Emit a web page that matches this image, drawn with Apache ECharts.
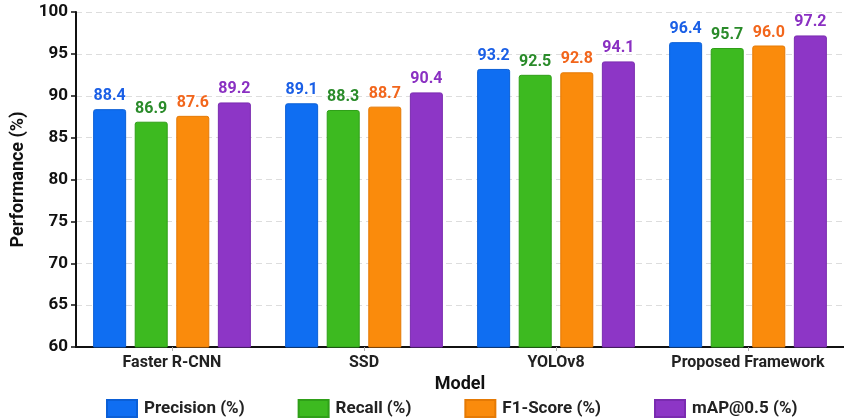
<!DOCTYPE html>
<html>
<head>
<meta charset="utf-8">
<script src="https://cdn.jsdelivr.net/npm/echarts@6/dist/echarts.min.js"></script>
<style>
  html, body { margin: 0; padding: 0; background: #ffffff; }
  #chart { width: 844px; height: 419px; }
</style>
</head>
<body>
<div id="chart"></div>
<script>
// Model comparison: detection metrics per model
const models = ['Faster R-CNN', 'SSD', 'YOLOv8', 'Proposed Framework'];
const precision = [88.4, 89.1, 93.2, 96.4];
const recall = [86.9, 88.3, 92.5, 95.7];
const f1Score = [87.6, 88.7, 92.8, 96.0];
const mAP50 = [89.2, 90.4, 94.1, 97.2];
const seriesNames = ['Precision (%)', 'Recall (%)', 'F1-Score (%)', 'mAP@0.5 (%)'];
const yTicks = [60, 65, 70, 75, 80, 85, 90, 95, 100];

const barColors = ['#0f6ef2', '#3dba20', '#fa8b0c', '#8d36c6'];
const borderColors = ['#0b5fd6', '#2f9f18', '#e57a05', '#7a2bb0'];
const labelColors = ['#1a5fe6', '#2a8b2a', '#f2661c', '#8a30c2'];
const FONT = 'Roboto';

const chart = echarts.init(document.getElementById('chart'), null, { renderer: 'canvas' });

const values = [precision, recall, f1Score, mAP50];
const series = values.map((data, i) => ({
  name: seriesNames[i],
  type: 'bar',
  data: data,
  barWidth: 33,
  barGap: '26%',
  itemStyle: {
    color: barColors[i],
    borderColor: borderColors[i],
    borderWidth: 1,
    borderRadius: [2, 2, 0, 0]
  },
  label: {
    show: true,
    position: 'top',
    distance: 5,
    formatter: p => p.value.toFixed(1),
    color: labelColors[i],
    fontFamily: FONT,
    fontWeight: 'bold',
    fontSize: 16
  }
}));

chart.setOption({
  animation: false,
  backgroundColor: '#ffffff',
  textStyle: { fontFamily: FONT },
  grid: { left: 76, right: -10, top: 12, bottom: 72, containLabel: false },
  legend: {
    top: 394,
    left: 101,
    itemWidth: 30,
    itemHeight: 17,
    itemGap: 53,
    icon: 'rect',
    textStyle: { fontFamily: FONT, fontWeight: 'bold', fontSize: 17, color: '#222222', padding: [0, 0, 0, 2] },
    data: seriesNames
  },
  xAxis: {
    type: 'category',
    data: models,
    name: 'Model',
    nameLocation: 'middle',
    nameGap: 28,
    nameTextStyle: { fontFamily: FONT, fontWeight: 'bold', fontSize: 18, color: '#111111' },
    axisLine: { lineStyle: { color: '#111111', width: 2 } },
    axisTick: { show: true, alignWithLabel: true, interval: 0, length: 4, lineStyle: { color: '#aaaaaa' } },
    axisLabel: { interval: 0, fontFamily: FONT, fontWeight: 'bold', fontSize: 16, color: '#222222', margin: 8 }
  },
  yAxis: {
    type: 'value',
    min: yTicks[0],
    max: yTicks[yTicks.length - 1],
    interval: 5,
    name: 'Performance (%)',
    nameLocation: 'middle',
    nameGap: 49,
    nameTextStyle: { fontFamily: FONT, fontWeight: 'bold', fontSize: 18, color: '#111111' },
    axisLine: { show: true, lineStyle: { color: '#111111', width: 2 } },
    axisTick: { show: true, length: 5, lineStyle: { color: '#111111', width: 1.5 } },
    axisLabel: { fontFamily: FONT, fontWeight: 'bold', fontSize: 17, color: '#111111', margin: 8 },
    splitLine: { show: true, lineStyle: { color: '#dddddd', type: [6, 4], width: 1 } }
  },
  series: series
});
</script>
</body>
</html>
